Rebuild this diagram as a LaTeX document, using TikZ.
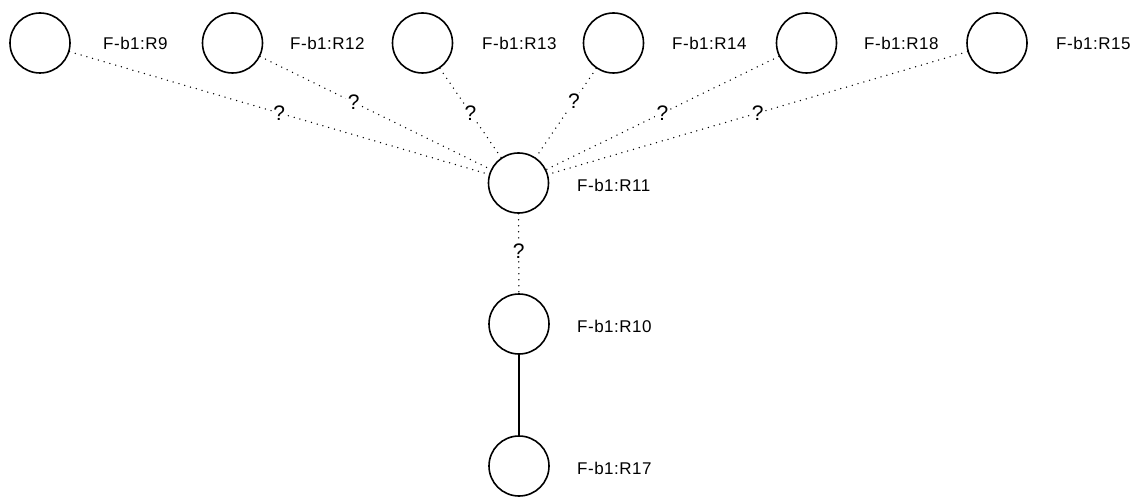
\documentclass[tikz,border=0pt]{standalone}
\usepackage{fontspec}
\setmainfont{Liberation Sans}
\newfontfamily\lblfont[LetterSpace=3]{Liberation Sans}
\begin{document}
\begin{tikzpicture}[x=1pt,y=-1pt,
  state/.style={circle,draw,line width=1.6pt,minimum size=60pt,inner sep=0pt},
  lbl/.style={anchor=west,inner sep=0pt,font=\lblfont\fontsize{17}{20}\selectfont},
  rel/.style={line width=1.5pt,line cap=round,dash pattern=on 0pt off 6pt},
  solidrel/.style={line width=1.5pt},
  q/.style={fill=white,inner sep=1.5pt,font=\fontsize{21}{24}\selectfont}]
\useasboundingbox (0,0) rectangle (1142,497);
% top row
\node[state] (r9)  at (40,43) {};
\node[state] (r12) at (232.5,43) {};
\node[state] (r13) at (422.5,43) {};
\node[state] (r14) at (613.5,43) {};
\node[state] (r18) at (806.5,43) {};
\node[state] (r15) at (997,43) {};
\node[state] (r11) at (518.5,183) {};
\node[state] (r10) at (519,324) {};
\node[state] (r17) at (519,466) {};
% labels
\node[lbl] (l9)  at (103,43) {F-b1:R9};
\node[lbl] (l12) at (290,43) {F-b1:R12};
\node[lbl] (l13) at (482,43) {F-b1:R13};
\node[lbl] (l14) at (672,43) {F-b1:R14};
\node[lbl] (l18) at (864,43) {F-b1:R18};
\node[lbl] (l15) at (1056,43) {F-b1:R15};
\node[lbl] (l11) at (577,185) {F-b1:R11};
\node[lbl] (l10) at (577,326) {F-b1:R10};
\node[lbl] (l17) at (577,468) {F-b1:R17};
% edges
\draw[rel] (r9)  -- node[q,pos=.5]{?} (r11);
\draw[rel] (r12) -- node[q,pos=.405]{?} (r11);
\draw[rel] (r13) -- node[q,pos=.5]{?} (r11);
\draw[rel] (r14) -- node[q,pos=.37]{?} (r11);
\draw[rel] (r18) -- node[q,pos=.5]{?} (r11);
\draw[rel] (r15) -- node[q,pos=.5]{?} (r11);
\draw[rel] (r11) -- node[q,pos=.47]{?} (r10);
\draw[solidrel] (r10) -- (r17);
\end{tikzpicture}
\end{document}
